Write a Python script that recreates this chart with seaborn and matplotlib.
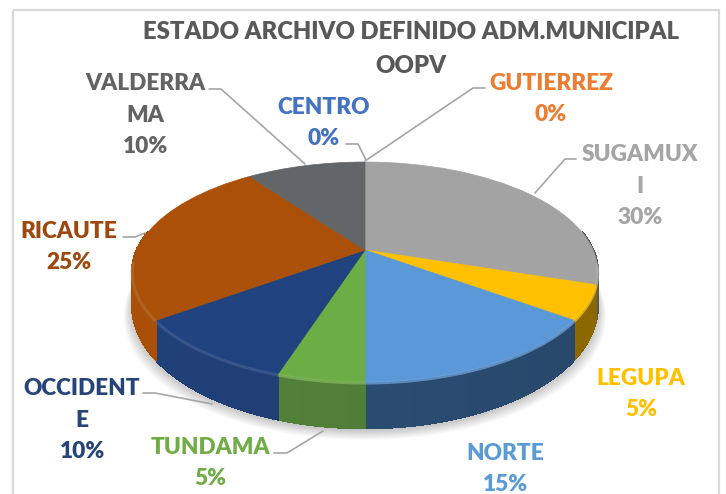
import numpy as np
import seaborn as sns
import matplotlib.pyplot as plt
from matplotlib.collections import PolyCollection
from matplotlib.colors import to_rgb
from matplotlib.patches import Polygon, Rectangle
from matplotlib.transforms import Transform

titulo = 'ESTADO ARCHIVO DEFINIDO ADM.MUNICIPAL\nOOPV'
nombres = ['CENTRO', 'GUTIERREZ', 'SUGAMUX\nI', 'LEGUPA', 'NORTE', 'TUNDAMA', 'OCCIDENT\nE', 'RICAUTE', 'VALDERRA\nMA']
valores = [0, 0, 30, 5, 15, 5, 10, 25, 10]

colores = ['#4472C4', '#ED7D31', '#A5A5A5', '#FFC000', '#5B9BD5', '#70AD47', '#264478', '#9E480E', '#636363']
colores_top = ['#4472C4', '#ED7D31', '#A3A3A3', '#FFC000', '#5A98D8', '#6DAD46', '#20427F', '#AA5008', '#636668']
colores_lado = ['#4472C4', '#ED7D31', '#5E5E5E', '#957000', '#2A4D72', '#517F38', '#1F3E74', '#A34C08', '#4A4A4A']

pos_x = [324, 551, 640, 641, 505, 210, 82, 69, 145]
pos_y = [123, 99, 186, 394, 469, 463, 420, 247, 115]

lineas = [[(346, 144), (358, 144), (366, 160)],
          [(485, 88), (473, 88), (365, 161)],
          [(576, 159), (565, 159), (535, 193)],
          [(143, 393), (155, 393), (212, 404)],
          [(274, 453), (287, 453), (323, 431)],
          [(123, 237), (135, 237), (145, 233)],
          [(209, 89), (221, 89), (305, 164)]]

# perspectiva del disco: centro en pixeles, radios y fuerza de la fuga
cx, cy = 365, 250
rx, ry = 228, 105.6
k = 0.2


def proyecta(u, v):
    d = 1 + k * v
    return cx + rx * u / d, cy - ry * v / d


def baja(u, v):
    # grosor del disco, mayor hacia el frente
    x, y = proyecta(u, v)
    return x, y + 30 + 16 * (-v)


class Perspectiva(Transform):
    input_dims = 2
    output_dims = 2

    def transform_non_affine(self, values):
        x, y = proyecta(values[:, 0], values[:, 1])
        return np.column_stack([x, y])


sns.set_theme(style='white')
plt.rcParams['font.family'] = ['Lato', 'DejaVu Sans']

fig, ax = plt.subplots(figsize=(7.26, 4.94), dpi=100)
fig.subplots_adjust(0, 0, 1, 1)

wedges, _ = ax.pie(valores, colors=colores_top, startangle=90, counterclock=False,
                   wedgeprops={'linewidth': 0.5}, radius=1)
ax.set_aspect('auto')
ax.set_xlim(0, 726)
ax.set_ylim(494, 0)
ax.axis('off')

ax.add_patch(Rectangle((13, 10), 706, 500, fill=False, edgecolor='#D9D9D9', linewidth=1.6, zorder=0))

# sombra suave debajo del disco
t = np.radians(np.linspace(0, 360, 241))
xb, yb = baja(np.cos(t), np.sin(t))
for i in range(10):
    esc = 1 + i * 0.004
    sombra = np.column_stack([cx + (xb - cx) * esc, yb + i * 1.1 + 2])
    ax.add_patch(Polygon(sombra, closed=True, facecolor='black', edgecolor='none', alpha=0.025, zorder=1))

# cara lateral, por tramos de cada porcion
quads = []
caras = []
for w, lado in zip(wedges, colores_lado):
    ang = np.radians(np.linspace(w.theta1, w.theta2, 40))
    u, v = np.cos(ang), np.sin(ang)
    x1, y1 = proyecta(u, v)
    x2, y2 = baja(u, v)
    base = np.array(to_rgb(lado))
    for j in range(len(ang) - 1):
        if v[j] > 0.15 and v[j + 1] > 0.15:
            continue
        quads.append([(x1[j], y1[j]), (x1[j + 1], y1[j + 1]), (x2[j + 1], y2[j + 1]), (x2[j], y2[j])])
        caras.append(np.clip(base * (1.05 - 0.12 * (u[j] + 1) / 2), 0, 1))
ax.add_collection(PolyCollection(quads, facecolors=caras, edgecolors=caras, linewidths=1.2,
                                 antialiased=False, zorder=2))

# cara superior: las porciones del pie con la perspectiva
persp = Perspectiva() + ax.transData
for w, top in zip(wedges, colores_top):
    w.set_transform(persp)
    w.set_edgecolor(top)
    w.set_zorder(3)

# brillo del borde
for w, top in zip(wedges, colores_top):
    ang = np.radians(np.linspace(w.theta1, w.theta2, 40))
    u, v = np.cos(ang), np.sin(ang)
    m = v < -0.1
    if m.sum() < 2:
        continue
    x1, y1 = proyecta(u[m], v[m])
    c = np.array(to_rgb(top))
    claro = c + (1 - c) * 0.15
    ax.plot(x1, y1 + 1, color=claro, lw=2.2, alpha=0.7, zorder=4, solid_capstyle='butt')

for l in lineas:
    xs, ys = zip(*l)
    ax.plot(xs, ys, color='#A6A6A6', lw=1.2, zorder=5)

ax.text(411, 49, titulo, ha='center', va='center', fontsize=17.2, fontweight='heavy',
        color='#595959', linespacing=1.7)

for n, val, c, x, y in zip(nombres, valores, colores, pos_x, pos_y):
    ax.text(x, y, '{}\n{}%'.format(n, val), ha='center', va='center', fontsize=16.3,
            fontweight='heavy', color=c, linespacing=1.64, zorder=6)

fig.savefig('out.png', dpi=100)
